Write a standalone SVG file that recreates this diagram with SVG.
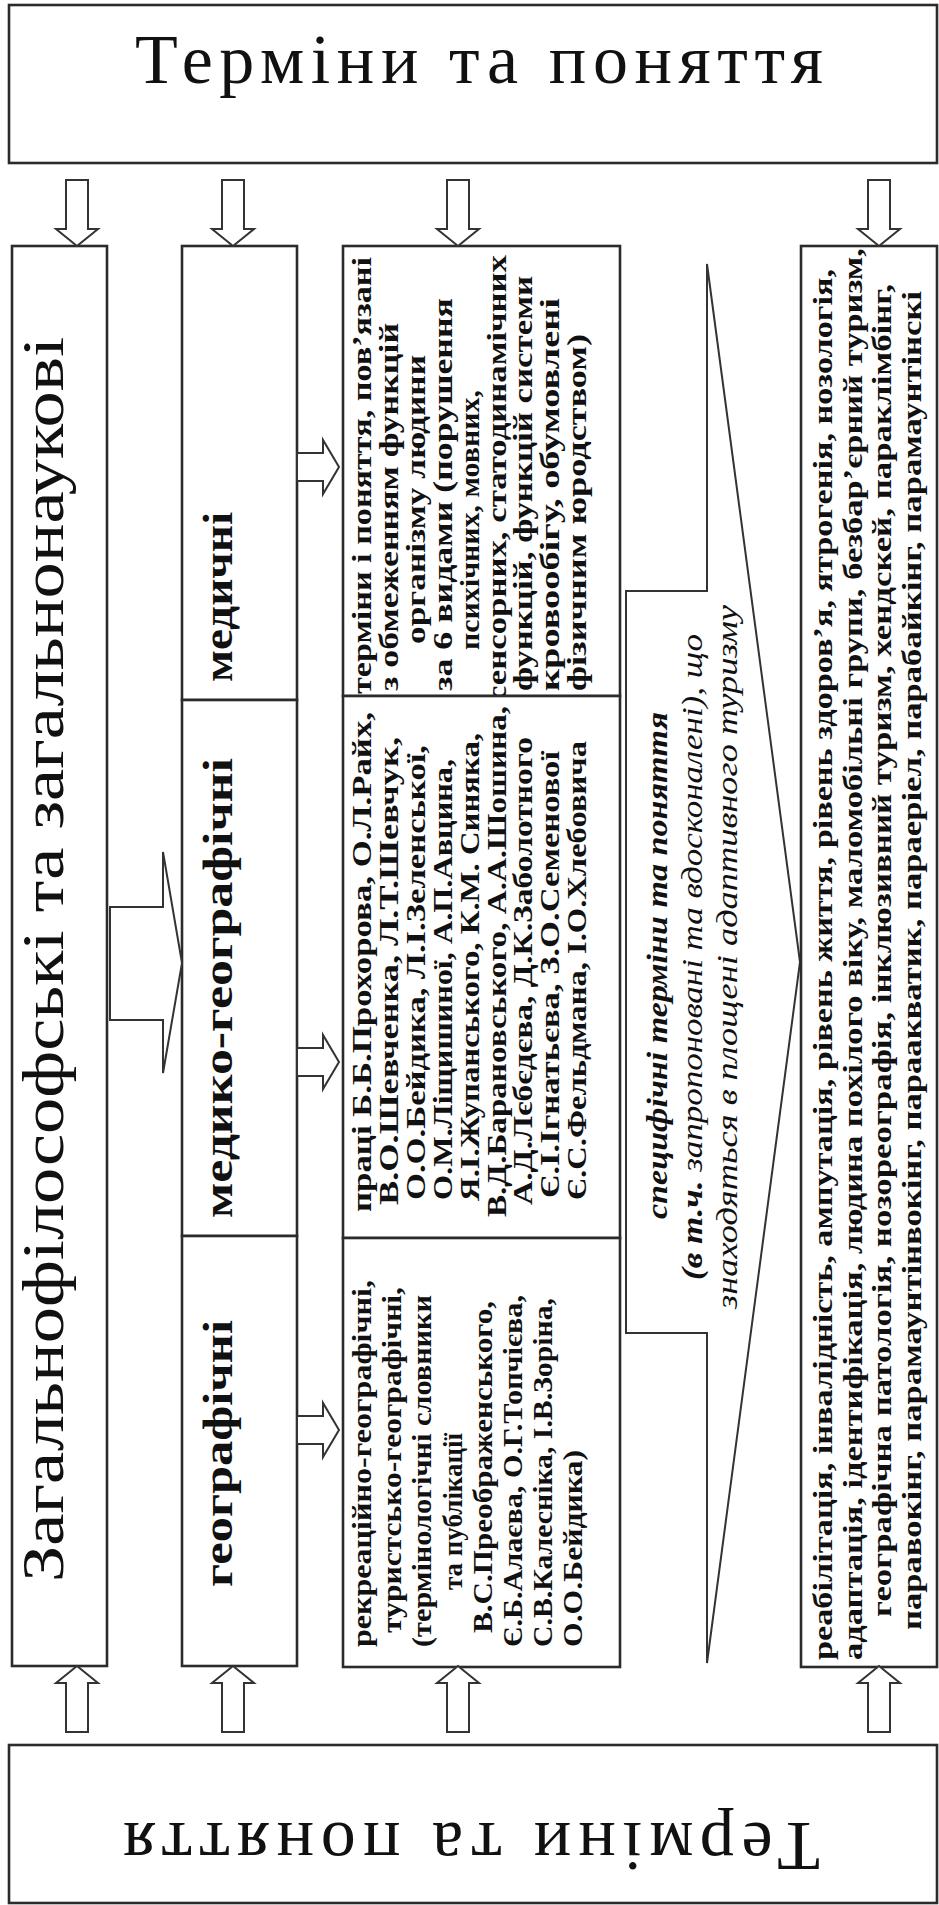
<svg xmlns="http://www.w3.org/2000/svg" width="939" height="1905" viewBox="0 0 939 1905">
  <style>
    .box { fill: #ffffff; stroke: #2b2b2b; stroke-width: 2.6; }
    .arr { fill: #ffffff; stroke: #333333; stroke-width: 2; stroke-linejoin: miter; }
    .t { font-family: "Liberation Serif", "Times New Roman", serif; fill: #111111; }
    .b { font-weight: bold; }
    .i { font-style: italic; }
    .title { font-size: 70px; }
    .big { font-size: 60px; }
    .kind { font-size: 42px; font-weight: bold; }
    .det { font-size: 28px; font-weight: bold; }
    .spec { font-size: 29px; font-style: italic; }
  </style>
  <rect x="0" y="0" width="939" height="1905" fill="#ffffff"/>

  <!-- heading box, top -->
  <g id="terms-top">
    <rect class="box" x="9" y="5" width="928" height="158"/>
    <text class="t title" x="135" y="83" textLength="688" lengthAdjust="spacing">Терміни та поняття</text>
  </g>

  <!-- heading box, bottom (turned upside down) -->
  <g id="terms-bottom">
    <rect class="box" x="9" y="1745" width="928" height="158"/>
    <text class="t title" transform="translate(820,1823) rotate(180)" x="0" y="0" textLength="697" lengthAdjust="spacing">Терміни та поняття</text>
  </g>

  <!-- general philosophical column -->
  <g id="general">
    <rect class="box" x="12" y="246" width="95" height="1420"/>
    <g transform="rotate(-90)">
      <text class="t big" x="-1582" y="63" textLength="1245" lengthAdjust="spacingAndGlyphs">Загальнофілософські та загальнонаукові</text>
    </g>
  </g>

  <!-- three kinds of terms -->
  <g id="kind-medical">
    <rect class="box" x="182" y="246" width="115" height="454"/>
    <g transform="rotate(-90)">
      <text class="t kind" x="-682" y="232" textLength="170" lengthAdjust="spacingAndGlyphs">медичні</text>
    </g>
  </g>
  <g id="kind-medgeo">
    <rect class="box" x="182" y="700" width="115" height="536"/>
    <g transform="rotate(-90)">
      <text class="t kind" x="-1218" y="232" textLength="460" lengthAdjust="spacingAndGlyphs">медико-географічні</text>
    </g>
  </g>
  <g id="kind-geo">
    <rect class="box" x="182" y="1236" width="115" height="430"/>
    <g transform="rotate(-90)">
      <text class="t kind" x="-1587" y="232" textLength="267" lengthAdjust="spacingAndGlyphs">географічні</text>
    </g>
  </g>

  <!-- details: medical -->
  <g id="detail-medical">
    <rect class="box" x="343" y="246" width="277" height="450"/>
    <g transform="rotate(-90)" class="t det">
      <text x="-694" y="371" textLength="437" lengthAdjust="spacingAndGlyphs">терміни і поняття, пов’язані</text>
      <text x="-691" y="397.9" textLength="368" lengthAdjust="spacingAndGlyphs">з обмеженням  функцій</text>
      <text x="-644" y="424.8" textLength="289" lengthAdjust="spacingAndGlyphs">організму людини</text>
      <text x="-691" y="451.7" textLength="393" lengthAdjust="spacingAndGlyphs">за 6 видами (порушення</text>
      <text x="-650" y="478.6" textLength="260" lengthAdjust="spacingAndGlyphs">психічних, мовних,</text>
      <text x="-701" y="505.5" textLength="446" lengthAdjust="spacingAndGlyphs">сенсорних, статодинамічних</text>
      <text x="-691" y="532.4" textLength="415" lengthAdjust="spacingAndGlyphs">функцій, функцій системи</text>
      <text x="-691" y="559.3" textLength="393" lengthAdjust="spacingAndGlyphs">кровообігу, обумовлені</text>
      <text x="-691" y="586.2" textLength="357" lengthAdjust="spacingAndGlyphs">фізичним юродством)</text>
    </g>
  </g>

  <!-- details: medical-geographical -->
  <g id="detail-medgeo">
    <rect class="box" x="343" y="696" width="277" height="542"/>
    <g transform="rotate(-90)" class="t det">
      <text x="-1212" y="371" textLength="500" lengthAdjust="spacingAndGlyphs">праці Б.Б.Прохорова, О.Л.Райх,</text>
      <text x="-1205" y="397.9" textLength="468" lengthAdjust="spacingAndGlyphs">В.О.Шевченка, Л.Т.Шевчук,</text>
      <text x="-1200" y="424.8" textLength="455" lengthAdjust="spacingAndGlyphs">О.О.Бейдика, Л.І.Зеленської,</text>
      <text x="-1200" y="451.7" textLength="441" lengthAdjust="spacingAndGlyphs">О.М.Ліщишиної, А.П.Авцина,</text>
      <text x="-1201" y="478.6" textLength="468" lengthAdjust="spacingAndGlyphs">Я.І.Жупанського, К.М. Синяка,</text>
      <text x="-1217" y="505.5" textLength="511" lengthAdjust="spacingAndGlyphs">В.Д.Барановського, А.А.Шошина,</text>
      <text x="-1205" y="532.4" textLength="468" lengthAdjust="spacingAndGlyphs">А.Д.Лєбєдєва, Д.К.Заболотного</text>
      <text x="-1198" y="559.3" textLength="447" lengthAdjust="spacingAndGlyphs">Є.І.Ігнатьєва, З.О.Семенової</text>
      <text x="-1200" y="586.2" textLength="459" lengthAdjust="spacingAndGlyphs">Є.С.Фельдмана, І.О.Хлебовича</text>
    </g>
  </g>

  <!-- details: geographical -->
  <g id="detail-geo">
    <rect class="box" x="343" y="1238" width="277" height="429"/>
    <g transform="rotate(-90)" class="t det">
      <text x="-1647" y="371" textLength="367" lengthAdjust="spacingAndGlyphs">рекреаційно-географічні,</text>
      <text x="-1633" y="401.2" textLength="346" lengthAdjust="spacingAndGlyphs">туристсько-географічні,</text>
      <text x="-1647" y="431.4" textLength="352" lengthAdjust="spacingAndGlyphs">(термінологічні словники</text>
      <text x="-1590" y="461.6" textLength="157" lengthAdjust="spacingAndGlyphs">та публікації</text>
      <text x="-1633" y="491.8" textLength="332" lengthAdjust="spacingAndGlyphs">В.С.Преображенського,</text>
      <text x="-1647" y="522" textLength="352" lengthAdjust="spacingAndGlyphs">Є.Б.Алаєва, О.Г.Топчієва,</text>
      <text x="-1647" y="552.2" textLength="349" lengthAdjust="spacingAndGlyphs">С.В.Калесніка, І.В.Зоріна,</text>
      <text x="-1647" y="582.4" textLength="197" lengthAdjust="spacingAndGlyphs">О.О.Бейдика)</text>
    </g>
  </g>

  <!-- wide block arrow carrying the specific terms -->
  <g id="specific">
    <path class="arr" d="M626,591 H707 V264 L800,962 L707,1663 V1333 H626 Z"/>
    <g transform="rotate(-90)" class="t spec">
      <text x="-1219" y="667" font-weight="bold" textLength="507" lengthAdjust="spacingAndGlyphs">специфічні терміни та поняття</text>
      <text x="-1280" y="702" textLength="646" lengthAdjust="spacingAndGlyphs"><tspan font-weight="bold">(в т.ч.</tspan> запропоновані та вдосконалені), що</text>
      <text x="-1309" y="737" textLength="704" lengthAdjust="spacingAndGlyphs">знаходяться в площені адаптивного туризму</text>
    </g>
  </g>

  <!-- list of adaptive tourism terms -->
  <g id="terms-list">
    <rect class="box" x="801" y="246" width="136" height="1421"/>
    <g transform="rotate(-90)" class="t det">
      <text x="-1660" y="832" textLength="1391" lengthAdjust="spacingAndGlyphs">реабілітація, інвалідність, ампутація, рівень життя, рівень здоров’я, ятрогенія, нозологія,</text>
      <text x="-1660" y="861.5" textLength="1412" lengthAdjust="spacingAndGlyphs">адаптація, ідентифікація, людина похілого віку, маломобільні групи, безбар’єрний туризм,</text>
      <text x="-1617" y="891" textLength="1333" lengthAdjust="spacingAndGlyphs">географічна патологія, нозореографія, інклюзивний туризм, хендскей, параклімбінг,</text>
      <text x="-1630" y="920.5" textLength="1339" lengthAdjust="spacingAndGlyphs">паравокінг, парамаунтінвокінг, параакватик, параеріел, парабайкінг, парамаунтінскі</text>
    </g>
  </g>

  <!-- connectors -->
  <g id="connectors">
    <!-- from the top heading down into each column -->
    <path class="arr" d="M66,180 H88 V229 H98 L77,246 L56,229 H66 Z"/>
    <path class="arr" d="M222,180 H244 V229 H254 L233,246 L212,229 H222 Z"/>
    <path class="arr" d="M447,180 H469 V229 H479 L458,246 L437,229 H447 Z"/>
    <path class="arr" d="M868,180 H890 V229 H900 L879,246 L858,229 H868 Z"/>
    <!-- from the bottom heading up into each column -->
    <path class="arr" d="M66,1732 H88 V1683 H98 L77,1666 L56,1683 H66 Z"/>
    <path class="arr" d="M222,1732 H244 V1683 H254 L233,1666 L212,1683 H222 Z"/>
    <path class="arr" d="M447,1732 H469 V1683 H479 L458,1666 L437,1683 H447 Z"/>
    <path class="arr" d="M868,1732 H890 V1683 H900 L879,1666 L858,1683 H868 Z"/>
    <!-- general column into the three kinds -->
    <path class="arr" d="M110,907 H163 V852 L182,963 L163,1073 V1020 H110 Z"/>
    <!-- each kind into its details -->
    <path class="arr" d="M297,453 H323 V440 L339,467 L323,494 V481 H297 Z"/>
    <path class="arr" d="M297,1048 H323 V1035 L339,1062 L323,1089 V1076 H297 Z"/>
    <path class="arr" d="M297,1416 H323 V1403 L339,1430 L323,1457 V1444 H297 Z"/>
  </g>
</svg>
